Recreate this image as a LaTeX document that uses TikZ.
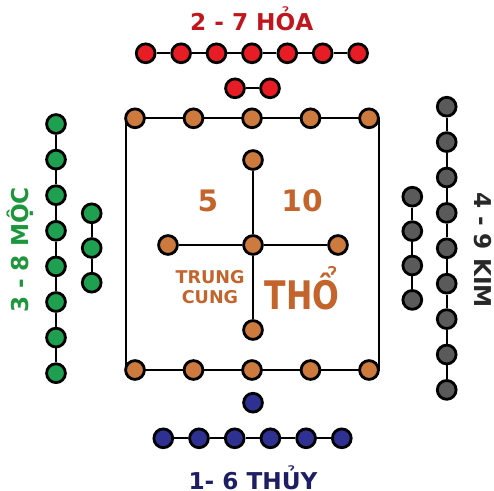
\documentclass[tikz,border=0pt]{standalone}
\usepackage{fontspec}
\setmainfont{DejaVu Sans}
\usetikzlibrary{positioning}
\definecolor{hoafill}{RGB}{232,28,36}
\definecolor{hoatext}{RGB}{192,22,30}
\definecolor{thofill}{RGB}{205,122,62}
\definecolor{thotext}{RGB}{195,100,45}
\definecolor{mocfill}{RGB}{30,160,80}
\definecolor{moctext}{RGB}{30,150,60}
\definecolor{kimfill}{RGB}{90,90,90}
\definecolor{kimtext}{RGB}{40,40,40}
\definecolor{thuyfill}{RGB}{46,49,146}
\definecolor{thuytext}{RGB}{30,30,100}
\tikzstyle{bead} = [circle, draw=black, line width=2pt, minimum size=0.47cm, inner sep=0pt]
\tikzstyle{link} = [line width=1.5pt, black]
\tikzstyle{hanhtext} = [font=\bfseries\fontsize{16.5}{18}\selectfont, inner sep=0pt]

\begin{document}
\begin{tikzpicture}[x=0.025cm, y=-0.025cm]
\useasboundingbox (0,0) rectangle (494,491);
% Tho frame
\coordinate (frTL) at (126,118.3);
\coordinate (frBR) at (379,370);
\draw[link] (frTL) rectangle (frBR);

% Hoa (top)
\foreach \i in {1,...,7}
  \node (hoa\i) [bead, fill=hoafill] at ({145.7+35.4*(\i-1)},53.3) {};
\node (hoa8) [bead, fill=hoafill] at (235,88.3) {};
\node (hoa9) [bead, fill=hoafill] at (270,88.3) {};
\foreach \i [count=\j from 2] in {1,...,6}
  \draw[link] (hoa\i) -- (hoa\j);
\draw[link] (hoa8) -- (hoa9);
\node[hanhtext, text=hoatext] (hoalbl) at (251.7,18.3) {2 - 7 HỎA};

% Tho (centre)
\foreach \i in {1,...,5} {
  \node (tho\i) [bead, fill=thofill] at ({135+58.5*(\i-1)},118.3) {};
  \node (thob\i) [bead, fill=thofill] at ({135+58.5*(\i-1)},370) {};
}
\foreach \i [count=\j from 2] in {1,...,4} {
  \draw[link] (tho\i) -- (tho\j);
  \draw[link] (thob\i) -- (thob\j);
}
\node (thoC) [bead, fill=thofill] at (253,245) {};
\node (thoN) [bead, fill=thofill] at (253,160) {};
\node (thoS) [bead, fill=thofill] at (253,330) {};
\node (thoW) [bead, fill=thofill] at (168,245) {};
\node (thoE) [bead, fill=thofill] at (338,245) {};
\draw[link] (thoC) -- (thoN);
\draw[link] (thoC) -- (thoS);
\draw[link] (thoC) -- (thoW);
\draw[link] (thoC) -- (thoE);
\node[text=thotext, font=\bfseries\fontsize{21}{24}\selectfont] (five) at (208,201) {5};
\node[text=thotext, font=\bfseries\fontsize{21}{24}\selectfont] (ten) at (302,201) {10};
\node[text=thotext, font=\bfseries\fontsize{12.5}{15}\selectfont, align=center] (trung) at (210,287) {TRUNG\\[-1pt]CUNG};
\node[text=thotext, font=\bfseries\fontsize{28}{30}\selectfont, xscale=0.8] (tholbl) at (302,288) {THỔ};

% Thuy (bottom)
\node (thuy0) [bead, fill=thuyfill] at (253,402.7) {};
\foreach \i in {1,...,6}
  \node (thuy\i) [bead, fill=thuyfill] at ({163.3+35.7*(\i-1)},438.3) {};
\foreach \i [count=\j from 2] in {1,...,5}
  \draw[link] (thuy\i) -- (thuy\j);
\node[hanhtext, text=thuytext] (thuylbl) at (253,478) {1- 6 THỦY};

% Moc (left)
\foreach \i in {1,...,8}
  \node (moc\i) [bead, fill=mocfill] at (56,{124+35.6*(\i-1)}) {};
\foreach \i [count=\j from 2] in {1,...,7}
  \draw[link] (moc\i) -- (moc\j);
\foreach \i in {9,10,11}
  \node (moc\i) [bead, fill=mocfill] at (91.7,{213.3+34.7*(\i-9)}) {};
\draw[link] (moc9) -- (moc10);
\draw[link] (moc10) -- (moc11);
\node[hanhtext, text=moctext, rotate=90] (moclbl) at (20,250) {3 - 8 MỘC};

% Kim (right)
\foreach \i in {1,...,9}
  \node (kim\i) [bead, fill=kimfill] at (446.7,{106.7+35.4*(\i-1)}) {};
\foreach \i [count=\j from 2] in {1,...,8}
  \draw[link] (kim\i) -- (kim\j);
\foreach \i in {10,...,13}
  \node (kim\i) [bead, fill=kimfill] at (412.3,{196.7+34.4*(\i-10)}) {};
\foreach \i [count=\j from 11] in {10,11,12}
  \draw[link] (kim\i) -- (kim\j);
\node[hanhtext, text=kimtext, rotate=-90] (kimlbl) at (483.3,250) {4 - 9 KIM};
\end{tikzpicture}
\end{document}
